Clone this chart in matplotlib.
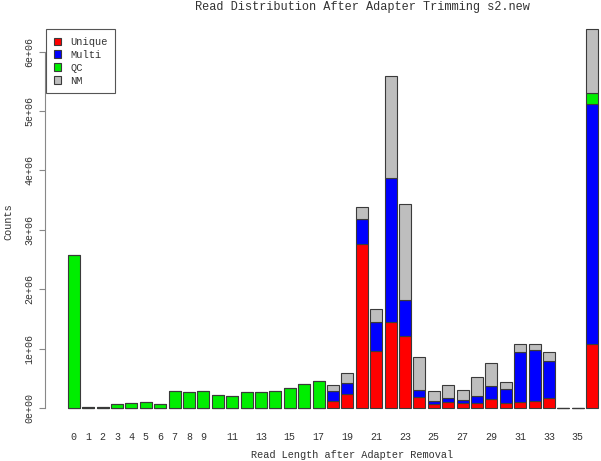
import numpy as np
import matplotlib
matplotlib.use("Agg")
from matplotlib import pyplot as plt

# read length bins 0..36
lengths = list(range(37))
tick_labels = ["0", "1", "2", "3", "4", "5", "6", "7", "8", "9", "11", "13", "15",
               "17", "19", "21", "23", "25", "27", "29", "31", "33", "35"]

# counts in millions
unique = [0] * 18 + [0.118, 0.241, 2.756, 0.965, 1.443, 1.217, 0.185, 0.067, 0.101,
                     0.079, 0.084, 0.152, 0.079, 0.107, 0.118, 0.163, 0.0, 0.0, 1.082]
multi = [0] * 18 + [0.162, 0.185, 0.431, 0.483, 2.427, 0.596, 0.123, 0.056, 0.073,
                    0.061, 0.113, 0.224, 0.241, 0.836, 0.858, 0.628, 0.0, 0.0, 4.036]
qc = [2.576, 0.02, 0.01, 0.067, 0.084, 0.1, 0.06, 0.28, 0.264, 0.28, 0.224, 0.207,
      0.264, 0.27, 0.29, 0.337, 0.4, 0.45] + [0] * 18 + [0.19]
nm = [0] * 18 + [0.107, 0.157, 0.197, 0.212, 1.72, 1.621, 0.545, 0.168, 0.213,
                 0.163, 0.325, 0.376, 0.112, 0.129, 0.096, 0.157, 0.005, 0.005, 1.072]

series = [("Unique", unique, "#FF0000"), ("Multi", multi, "#0000FF"),
          ("QC", qc, "#00EE00"), ("NM", nm, "#BEBEBE")]

plt.rcParams["font.family"] = ["Liberation Mono", "DejaVu Sans Mono"]
text_col = "#333333"

W, H = 601, 461
fig = plt.figure(figsize=(W / 100, H / 100), dpi=100)
ax = fig.add_axes([0, 0, 1, 1])

# R barplot layout: width 1, space 0.2 -> centres at 0.7 + 1.2*i
centres = 0.7 + 1.2 * np.array(lengths)
bottom = np.zeros(len(lengths))
handles = []
for name, vals, col in series:
    v = np.array(vals) * 1e6
    h = ax.bar(centres, v, width=1.0, bottom=bottom, color=col,
               edgecolor="#3a3a3a", linewidth=0.8, label=name)
    handles.append(h)
    bottom += v

# map pixels: bar 0 left edge at px 67.7, 12 px per unit; y zero at px 408, 59.4 px per 1e6
px_per_x = 12.0
ax.set_xlim(0.2 - 67.7 / px_per_x, 0.2 + (W - 67.7) / px_per_x)
ax.set_ylim(-(H - 408) / 59.4 * 1e6, 408 / 59.4 * 1e6)

for s in ["top", "right", "bottom"]:
    ax.spines[s].set_visible(False)
ax.spines["left"].set_position(("data", 0.2 + (45.5 - 67.7) / px_per_x))
ax.spines["left"].set_bounds(0, 6e6)
ax.spines["left"].set_color("#888888")
ax.spines["bottom"].set_position(("data", 0))

yt = np.arange(0, 7) * 1e6
ax.set_yticks(yt)
ax.set_yticklabels(["%de+0%d" % (k, 6 if k else 0) for k in range(7)],
                   rotation=90, va="center", fontsize=7.2, color=text_col)
ax.tick_params(axis="y", length=4.3, width=0.8, color="#888888", pad=3.5)

xt = [0.7 + 1.2 * int(t) for t in tick_labels]
ax.set_xticks(xt)
ax.set_xticklabels(tick_labels, fontsize=7.2, color=text_col)
ax.tick_params(axis="x", length=0, pad=17)

fig.text(362 / W, 1 - 7 / H, "Read Distribution After Adapter Trimming s2.new",
         ha="center", va="center", fontsize=8.6, color=text_col)
fig.text(352 / W, 1 - 455 / H, "Read Length after Adapter Removal",
         ha="center", va="center", fontsize=7.4, color=text_col)
fig.text(8 / W, 1 - 222 / H, "Counts", rotation=90,
         ha="center", va="center", fontsize=7.4, color=text_col)

leg = ax.legend(handles=handles, loc="upper left",
                bbox_to_anchor=(45.7 / W, 1 - 29 / H), bbox_transform=fig.transFigure,
                borderaxespad=0, fancybox=False, framealpha=1, edgecolor="#555555",
                fontsize=7.5, handlelength=0.7, handleheight=0.7,
                handletextpad=0.9, labelspacing=0.28, borderpad=0.75)
leg.get_frame().set_linewidth(0.8)
for t in leg.get_texts():
    t.set_color(text_col)

fig.savefig("out.png", dpi=100)
